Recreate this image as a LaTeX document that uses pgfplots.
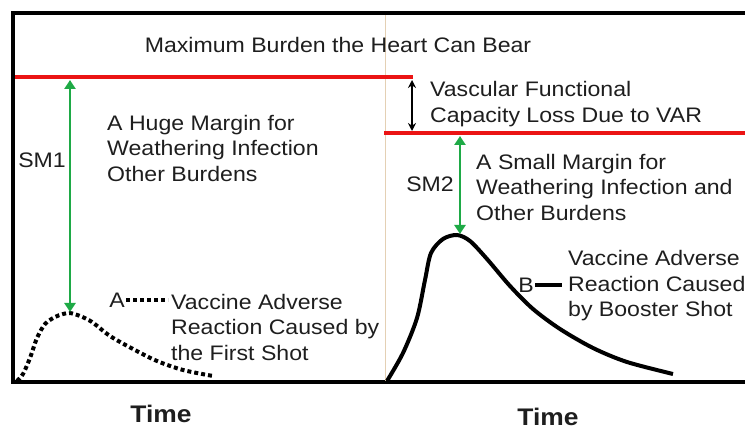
\documentclass[border=0pt]{standalone}
\usepackage{pgfplots}
\pgfplotsset{compat=1.18}
\usepackage{fontspec}
\setmainfont{Liberation Sans}[FakeStretch=1.1]
\usetikzlibrary{arrows.meta}
\definecolor{redl}{RGB}{235,20,20}
\definecolor{greenl}{RGB}{30,170,70}
\definecolor{tanl}{RGB}{228,208,180}
\definecolor{txt}{RGB}{30,30,30}
\tikzset{lbl/.style={text=txt, inner sep=0pt, font=\fontsize{21}{25.5}\selectfont, align=left}}
\begin{document}
\begin{tikzpicture}
\begin{axis}[hide axis, scale only axis, x=1pt, y=1pt,
  xmin=0, xmax=745, ymin=0, ymax=430, y dir=reverse, clip=false]
% frame
\addplot[black, line width=4pt, line cap=rect] coordinates {(745,13) (13,13) (13,382) (745,382)};
% separator
\addplot[tanl, line width=1pt] coordinates {(385,15) (385,381)};
% red capacity lines
\addplot[redl, line width=4.5pt] coordinates {(15,77) (413,77)};
\addplot[redl, line width=4.5pt] coordinates {(384,133) (745,133)};
% curve A (first shot)
\addplot[black, line width=4pt, dash pattern=on 4pt off 3pt, smooth, tension=0.5] coordinates {
 (17,381) (23,374) (30,358) (37,338) (45,324) (55,317) (63,314) (70,313) (80,316) (92,322) (110,336) (133,349) (157,361) (183,370) (213,376)};
% curve B (booster)
\addplot[black, line width=4pt, smooth, tension=0.5] coordinates {
 (387,381) (403,353) (417,318) (425,280) (431,253) (443,239) (457,235) (470,241) (487,259) (510,286) (533,309) (560,329) (593,348) (627,362) (673,374)};
% legend markers
\addplot[black, line width=4pt, dash pattern=on 4pt off 3pt] coordinates {(126,300) (168,300)};
\addplot[black, line width=4pt] coordinates {(535,285) (562,285)};
% arrows
\addplot[greenl, line width=2.5pt, {Triangle[length=9pt,width=11pt]}-{Triangle[length=9pt,width=11pt]}] coordinates {(70,80) (70,312)};
\addplot[greenl, line width=2.5pt, {Triangle[length=9pt,width=11pt]}-{Triangle[length=9pt,width=11pt]}] coordinates {(460,136) (460,234)};
\addplot[black, line width=1.5pt, {Stealth[length=8pt,width=8pt]}-{Stealth[length=8pt,width=8pt]}] coordinates {(412,80) (412,131)};
% texts
\node[lbl, anchor=center] at (axis cs:338,45) {Maximum Burden the Heart Can Bear};
\node[lbl, anchor=center] at (axis cs:42,160) {SM1};
\node[lbl, anchor=west] at (axis cs:107,148) {A Huge Margin for\\Weathering Infection\\Other Burdens};
\node[lbl, anchor=west] at (axis cs:430,104) {Vascular Functional\\Capacity Loss Due to VAR};
\node[lbl, anchor=center] at (axis cs:430,184) {SM2};
\node[lbl, anchor=west] at (axis cs:476,187) {A Small Margin for\\Weathering Infection and\\Other Burdens};
\node[lbl, anchor=center] at (axis cs:117,300) {A};
\node[lbl, anchor=west] at (axis cs:171,327) {Vaccine Adverse\\Reaction Caused by\\the First Shot};
\node[lbl, anchor=center] at (axis cs:526,285) {B};
\node[lbl, anchor=west] at (axis cs:568,286) {Vaccine Adverse\\Reaction Caused\\by Booster Shot};
\node[lbl, anchor=center, font=\fontsize{24}{28}\selectfont\bfseries] at (axis cs:161,414) {Time};
\node[lbl, anchor=center, font=\fontsize{24}{28}\selectfont\bfseries] at (axis cs:548,417) {Time};
\coordinate (bl) at (axis cs:0,430);
\coordinate (tr) at (axis cs:745,0);
\end{axis}
\pgfresetboundingbox
\useasboundingbox (bl) rectangle (tr);
\end{tikzpicture}
\end{document}
